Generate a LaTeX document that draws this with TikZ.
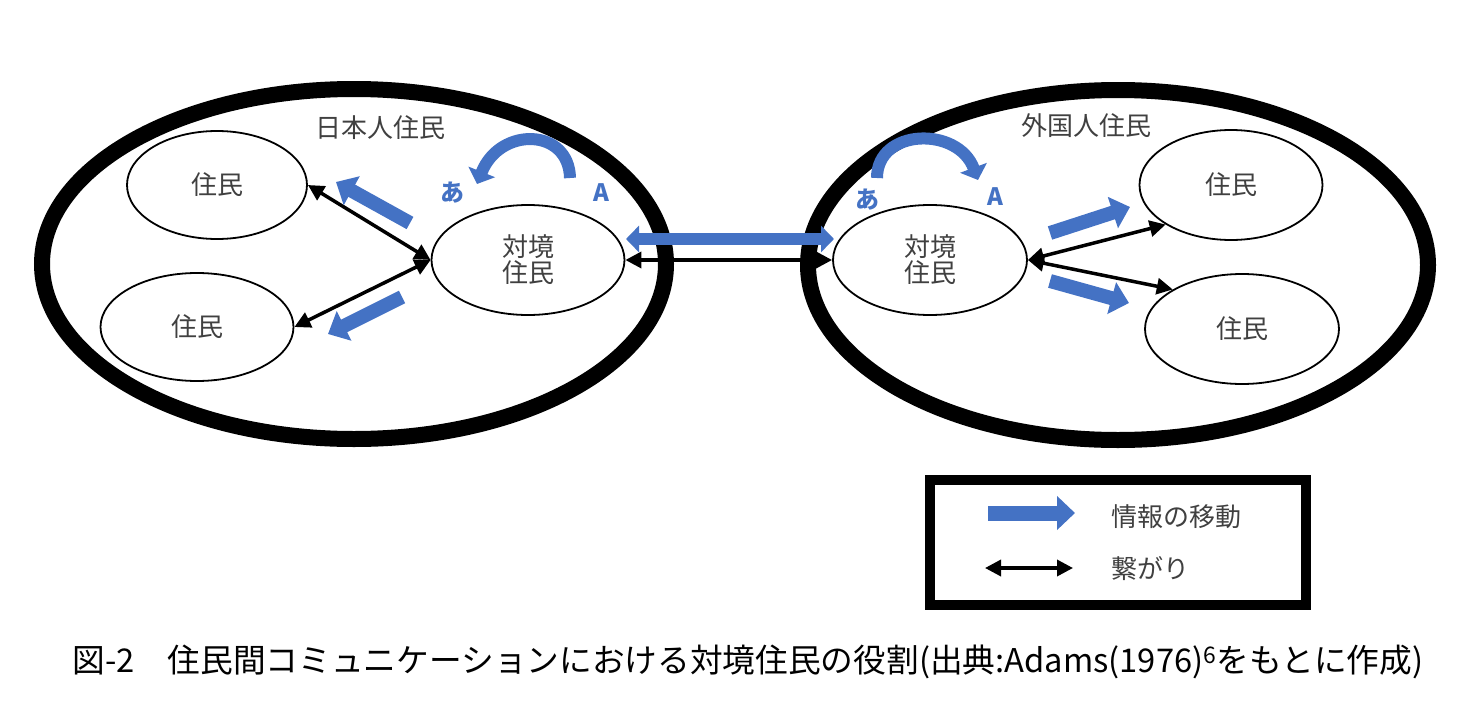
\documentclass[tikz,border=0pt]{standalone}
\usepackage{fontspec}
\setmainfont{Noto Sans CJK JP}
\usetikzlibrary{arrows.meta,shapes.geometric}
\definecolor{infoblue}{HTML}{4472C4}
\definecolor{labelgray}{HTML}{404040}
\begin{document}
\begin{tikzpicture}[x=1pt,y=-1pt,
  region/.style={ellipse, draw, line width=16pt, inner sep=0pt},
  person/.style={ellipse, draw, line width=1.8pt, inner sep=0pt, align=center,
    font=\fontsize{26}{30}\selectfont, text=labelgray},
  grouptitle/.style={font=\fontsize{26}{30}\selectfont, text=labelgray, inner sep=0pt},
  bluelabel/.style={font=\fontsize{24}{28}\selectfont\bfseries, text=infoblue, inner sep=0pt},
  link/.style={line width=3.5pt, {Triangle[length=16pt,width=16pt]}-{Triangle[length=16pt,width=16pt]}},
  info/.style={line width=14pt, draw=infoblue, -{Triangle[length=18pt,width=32pt]}},
  infoboth/.style={line width=12pt, draw=infoblue, {Triangle[length=13pt,width=26pt]}-{Triangle[length=13pt,width=26pt]}},
  turn/.style={line width=12pt, draw=infoblue, -{Triangle[length=13pt,width=28pt]}},
  legendtext/.style={font=\fontsize{26}{30}\selectfont, text=labelgray, anchor=west, inner sep=0pt},
]
\useasboundingbox (0,0) rectangle (1481,720);

% regions
\node[region, minimum width=624pt, minimum height=350pt] (jp) at (354,264) {};
\node[region, minimum width=620pt, minimum height=350pt] (fr) at (1118,265) {};
\node[grouptitle] (jpt) at (380,128) {日本人住民};
\node[grouptitle] (frt) at (1086,126) {外国人住民};

% residents
\node[person, minimum width=180pt, minimum height=108pt] (lt) at (217,185) {住民};
\node[person, minimum width=193pt, minimum height=108pt] (lb) at (197,327) {住民};
\node[person, minimum width=193pt, minimum height=110pt] (lc) at (528,260) {対境\\[-4pt]住民};
\node[person, minimum width=194pt, minimum height=110pt] (rc) at (930,260) {対境\\[-4pt]住民};
\node[person, minimum width=183pt, minimum height=110pt] (rt) at (1231,185) {住民};
\node[person, minimum width=194pt, minimum height=110pt] (rb) at (1242,329) {住民};

% connections
\draw[link] (lc.west) -- (lt.east);
\draw[link] (lc.west) -- (lb.east);
\draw[link] (lc.east) -- (rc.west);
\draw[link] (rc.east) -- (rt.south west);
\draw[link] (rc.east) -- (rb.north west);

% information flow
\coordinate (i1s) at (410,223); \coordinate (i1e) at (336,182);
\coordinate (i2s) at (402,297); \coordinate (i2e) at (328,334);
\coordinate (i3s) at (1050,233); \coordinate (i3e) at (1130,207);
\coordinate (i4s) at (1050,281); \coordinate (i4e) at (1129,303);
\coordinate (i5s) at (626,239); \coordinate (i5e) at (834,239);
\draw[info] (i1s) -- (i1e);
\draw[info] (i2s) -- (i2e);
\draw[info] (i3s) -- (i3e);
\draw[info] (i4s) -- (i4e);
\draw[infoboth] (i5s) -- (i5e);

% language switching
\coordinate (t1s) at (570,178); \coordinate (t1e) at (477,184);
\coordinate (t2s) at (877,178); \coordinate (t2e) at (978,180);
\draw[turn] (t1s) .. controls (569,128) and (500,126) .. (t1e);
\draw[turn] (t2s) .. controls (877,128) and (958,126) .. (t2e);
\node[bluelabel] (la1) at (452,193) {あ};
\node[bluelabel] (lA1) at (601,193) {A};
\node[bluelabel] (la2) at (867,200) {あ};
\node[bluelabel] (lA2) at (995,197) {A};

% legend
\node[draw, line width=10pt, minimum width=376pt, minimum height=125pt, inner sep=0pt] (legend) at (1118,542.5) {};
\coordinate (ls1) at (988,513); \coordinate (le1) at (1075,513);
\coordinate (ls2) at (985,568); \coordinate (le2) at (1073,568);
\draw[line width=15pt, draw=infoblue, -{Triangle[length=18pt,width=33pt]}] (ls1) -- (le1);
\draw[link] (ls2) -- (le2);
\node[legendtext] (lt1) at (1111,517) {情報の移動};
\node[legendtext] (lt2) at (1111,569) {繋がり};

% caption
\node[font=\fontsize{32.7}{36}\selectfont, inner sep=0pt] (cap) at (748,662)
  {図-2　住民間コミュニケーションにおける対境住民の役割(出典:Adams(1976)\textsuperscript{6}をもとに作成)};
\end{tikzpicture}
\end{document}
